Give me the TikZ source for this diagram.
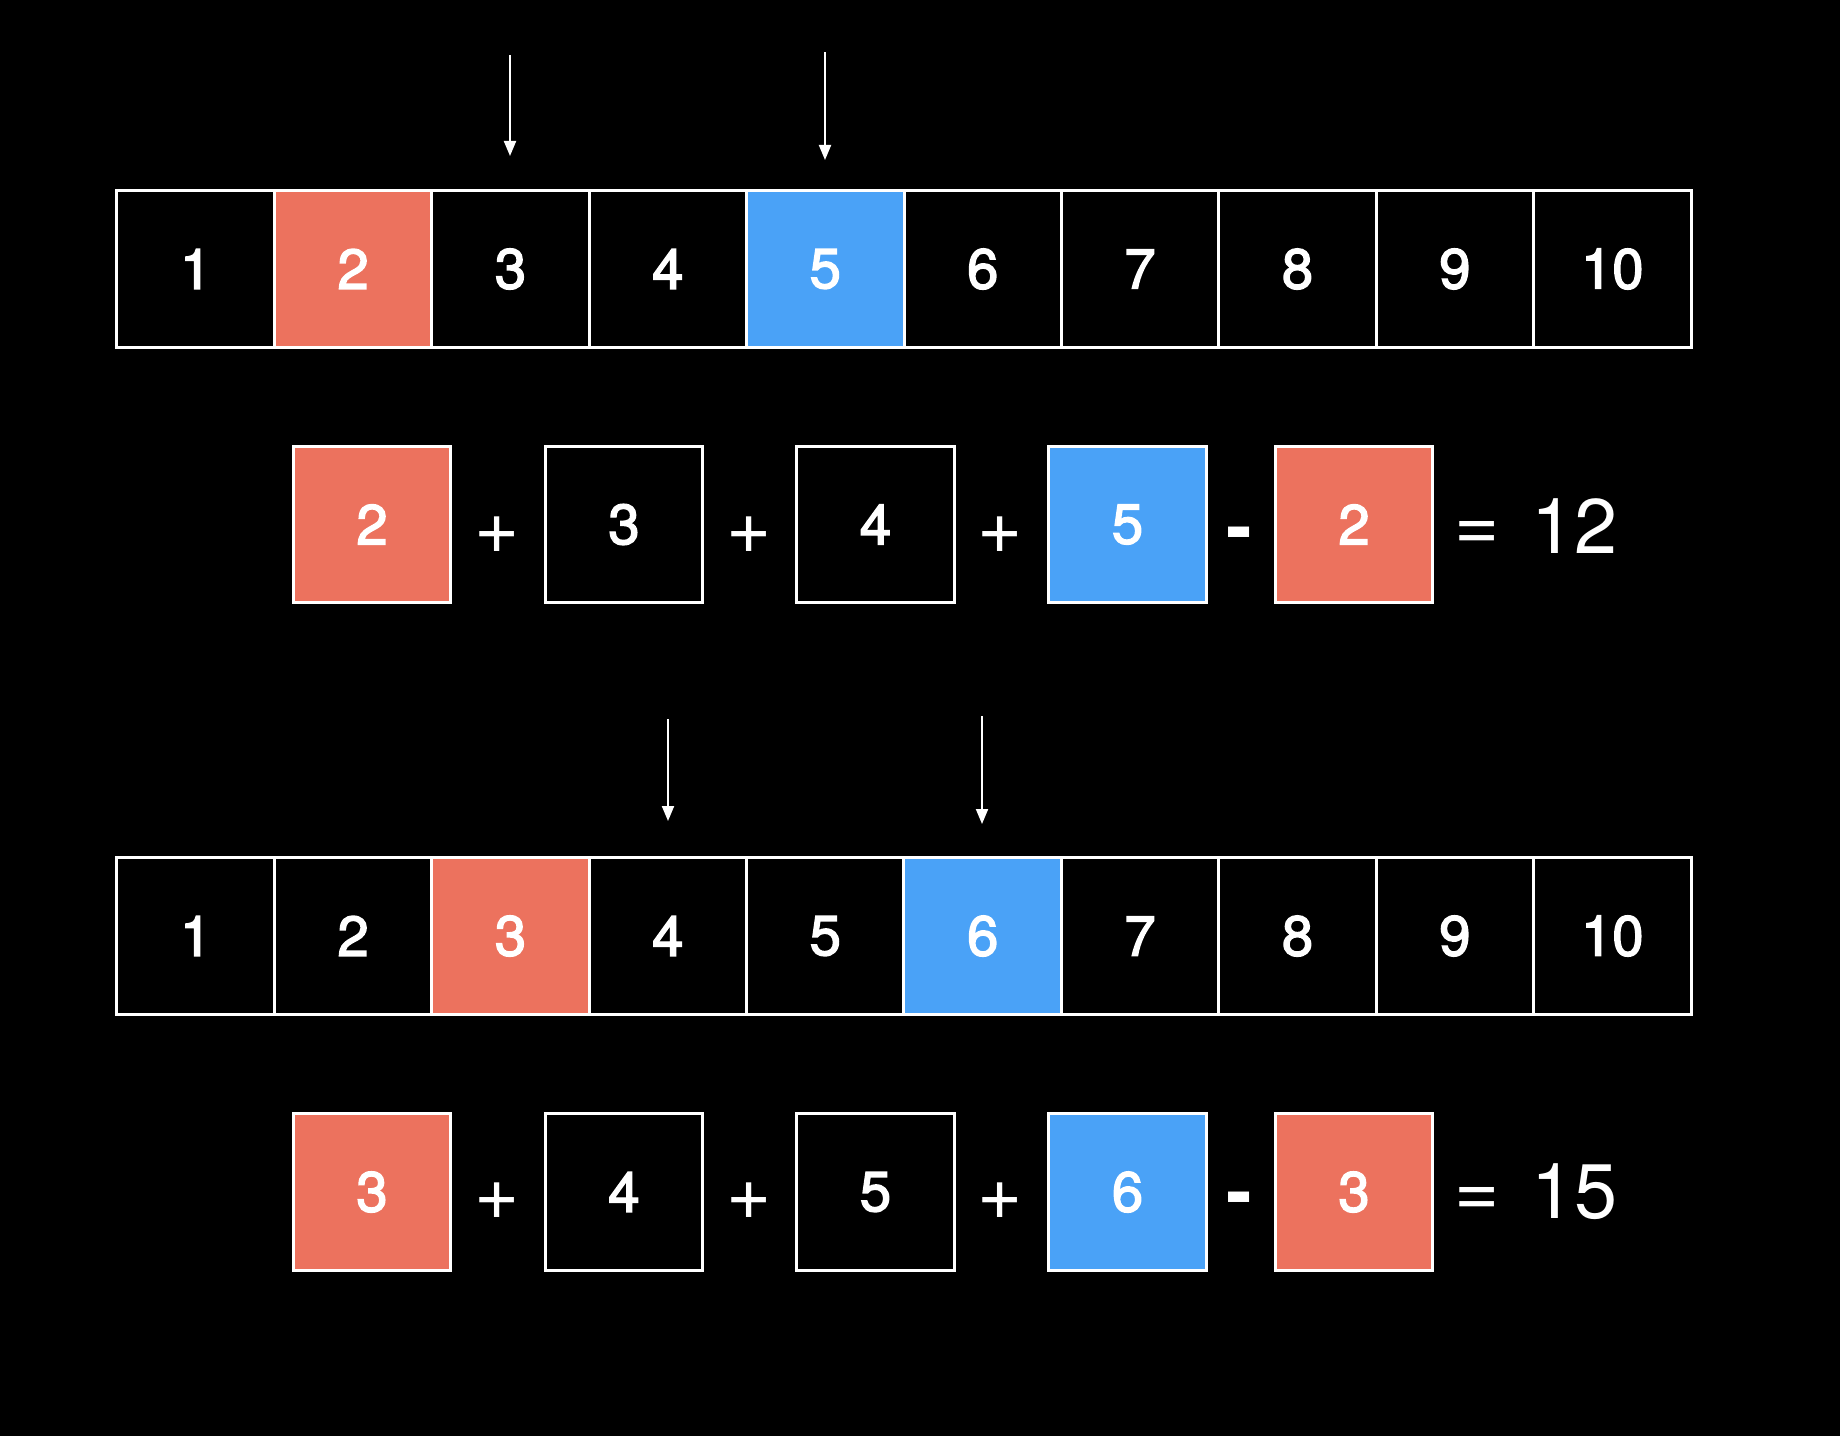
\documentclass[tikz,border=0pt]{standalone}
\usepackage{fontspec}
\setmainfont{TeX Gyre Heros}
\newfontfamily\cellfont{TeX Gyre Heros}[FakeBold=2.5]
\usetikzlibrary{arrows.meta}
\usetikzlibrary{positioning}

\definecolor{cellred}{RGB}{236,114,94}
\definecolor{cellblue}{RGB}{74,162,247}

\tikzset{
  cell/.style={draw=white, line width=0.03cm, fill=black, text=white,
    minimum width=1.574cm, minimum height=1.56cm, inner sep=0pt,
    font=\cellfont\fontsize{16}{16}\selectfont},
  redcell/.style={cell, fill=cellred},
  bluecell/.style={cell, fill=cellblue},
  op/.style={text=white, inner sep=0pt, font=\fontsize{22}{22}\selectfont},
  pointer/.style={white, line width=0.02cm, -{Triangle[length=0.15cm, width=0.12cm]}}
}

\begin{document}
\begin{tikzpicture}[x=0.01cm, y=-0.01cm]
    % background
    \fill[black] (0,0) rectangle (1840,1436);
    \useasboundingbox (0,0) rectangle (1840,1436);

    % first window: array
    \foreach \i in {1,...,10} {
        \node[cell] (a\i) at ({117+157.4*(\i-0.5)},269) {\i};
    }
    \node[redcell] at (a2) {2};
    \node[bluecell] at (a5) {5};

    % first window: pointers
    \coordinate (pa1) at (510,55);
    \coordinate (pa2) at (510,156);
    \coordinate (pb1) at (825,52);
    \coordinate (pb2) at (825,160);
    \draw[pointer] (pa1) -- (pa2);
    \draw[pointer] (pb1) -- (pb2);

    % first window: sum
    \node[redcell] (s1) at (372,524.5) {2};
    \node[cell] (s2) at (624,524.5) {3};
    \node[cell] (s3) at (875.5,524.5) {4};
    \node[bluecell] (s4) at (1127.5,524.5) {5};
    \node[redcell] (s5) at (1354,524.5) {2};
    \node[op] (o1) at (497.5,535) {+};
    \node[op] (o2) at (748.7,535) {+};
    \node[op] (o3) at (999.8,535) {+};
    \node[op, font=\fontsize{22}{22}\selectfont\bfseries] (o4) at (1239,540) {-};
    \node[op] (o5) at (1477,536) {=};
    \node[op] (r1) at (1574,526) {12};

    % second window: array
    \foreach \i in {1,...,10} {
        \node[cell] (b\i) at ({117+157.4*(\i-0.5)},936) {\i};
    }
    \node[redcell] at (b3) {3};
    \node[bluecell] at (b6) {6};

    % second window: pointers
    \coordinate (pc1) at (668,719);
    \coordinate (pc2) at (668,821);
    \coordinate (pd1) at (982,716);
    \coordinate (pd2) at (982,824);
    \draw[pointer] (pc1) -- (pc2);
    \draw[pointer] (pd1) -- (pd2);

    % second window: sum
    \node[redcell] (t1) at (372,1192) {3};
    \node[cell] (t2) at (624,1192) {4};
    \node[cell] (t3) at (875.5,1192) {5};
    \node[bluecell] (t4) at (1127.5,1192) {6};
    \node[redcell] (t5) at (1354,1192) {3};
    \node[op] (q1) at (497.5,1201) {+};
    \node[op] (q2) at (748.7,1201) {+};
    \node[op] (q3) at (999.8,1201) {+};
    \node[op, font=\fontsize{22}{22}\selectfont\bfseries] (q4) at (1239,1205) {-};
    \node[op] (q5) at (1477,1202) {=};
    \node[op] (r2) at (1574,1192) {15};
\end{tikzpicture}
\end{document}
